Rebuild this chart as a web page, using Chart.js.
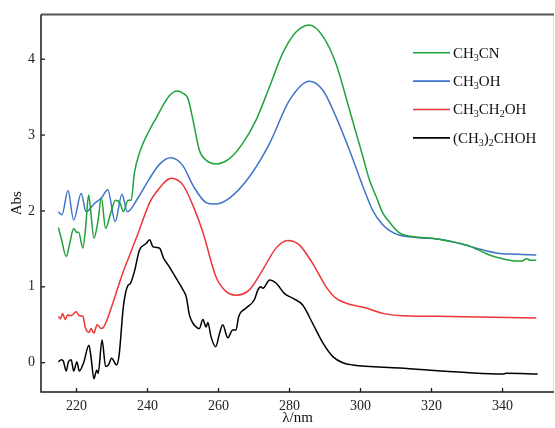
<!DOCTYPE html>
<html>
<head>
<meta charset="utf-8">
<title>UV-Vis spectra</title>
<script src="https://cdn.jsdelivr.net/npm/chart.js@4"></script>
<style>
  html, body { margin: 0; padding: 0; background: #fff; }
  #wrap { width: 555px; height: 428px; }
</style>
</head>
<body>
<div id="wrap"><canvas id="spectraChart" width="555" height="428"></canvas></div>
<script>
// Tick values
const xTicks = [220, 240, 260, 280, 300, 320, 340];
const yTicks = [0, 1, 2, 3, 4];

// CH3CN (green)
const ch3cnNm = [214.9, 215.7, 217.1, 218.0, 219.2, 220.0, 220.6, 221.8, 222.6, 223.4, 224.0, 224.9, 226.0, 227.0, 228.2, 229.5, 231.0, 232.3, 233.2, 234.5, 235.4, 236.3, 237.7, 240.6, 242.4, 244.5, 246.2, 248.3, 250.0, 251.4, 252.8, 254.6, 256.5, 259.3, 263.1, 266.8, 270.6, 274.4, 278.1, 281.9, 285.6, 289.4, 293.1, 296.9, 300.7, 302.5, 304.4, 306.3, 308.2, 311.0, 315.0, 320.4, 325.0, 329.8, 333.0, 336.3, 340.0, 343.8, 345.5, 346.7, 348.0, 349.5];
const ch3cnAbs = [1.78, 1.64, 1.40, 1.55, 1.77, 1.72, 1.72, 1.51, 1.80, 2.21, 2.00, 1.64, 1.85, 2.17, 1.77, 1.95, 2.14, 2.10, 1.99, 2.14, 2.14, 2.50, 2.76, 3.07, 3.22, 3.40, 3.52, 3.58, 3.55, 3.48, 3.20, 2.80, 2.67, 2.62, 2.69, 2.89, 3.20, 3.64, 4.08, 4.36, 4.45, 4.30, 3.94, 3.33, 2.71, 2.41, 2.19, 1.97, 1.85, 1.71, 1.66, 1.64, 1.60, 1.55, 1.49, 1.42, 1.37, 1.34, 1.34, 1.37, 1.35, 1.35];

// CH3OH (blue)
const ch3ohNm = [214.9, 215.9, 217.6, 219.2, 221.3, 222.7, 225.1, 227.0, 228.8, 230.9, 232.8, 234.3, 237.3, 240.6, 243.5, 246.5, 249.9, 253.0, 256.5, 258.9, 263.1, 268.7, 274.4, 280.0, 285.6, 289.4, 293.1, 296.9, 300.7, 303.5, 306.0, 308.2, 311.0, 315.7, 323.2, 328.0, 332.6, 339.2, 344.0, 349.5];
const ch3ohAbs = [1.99, 1.95, 2.27, 1.88, 2.23, 1.99, 2.10, 2.17, 2.28, 1.86, 2.22, 1.99, 2.17, 2.43, 2.62, 2.70, 2.60, 2.32, 2.11, 2.09, 2.17, 2.45, 2.89, 3.46, 3.71, 3.59, 3.24, 2.80, 2.32, 2.00, 1.83, 1.74, 1.68, 1.65, 1.62, 1.57, 1.51, 1.44, 1.43, 1.42];

// CH3CH2OH (red)
const etohNm = [214.9, 215.5, 216.1, 216.8, 217.5, 218.5, 219.9, 220.8, 221.8, 222.5, 223.5, 224.1, 224.9, 225.8, 227.0, 227.9, 230.2, 233.0, 234.5, 237.7, 240.6, 242.5, 246.7, 250.0, 253.0, 255.6, 259.3, 262.1, 264.9, 268.7, 272.4, 276.2, 279.5, 282.8, 286.5, 290.3, 293.1, 296.9, 301.6, 306.3, 311.9, 325.1, 349.5];
const etohAbs = [0.61, 0.58, 0.65, 0.57, 0.63, 0.62, 0.67, 0.62, 0.61, 0.46, 0.40, 0.45, 0.39, 0.50, 0.45, 0.49, 0.78, 1.18, 1.36, 1.75, 2.11, 2.25, 2.43, 2.34, 2.05, 1.72, 1.13, 0.94, 0.89, 0.96, 1.22, 1.51, 1.61, 1.55, 1.31, 1.00, 0.85, 0.77, 0.72, 0.65, 0.62, 0.61, 0.59];

// (CH3)2CHOH (black)
const iproNm = [214.9, 215.7, 216.3, 217.1, 217.7, 218.5, 219.2, 220.1, 220.8, 222.0, 223.5, 224.1, 224.9, 225.7, 226.1, 227.2, 228.2, 229.0, 229.9, 231.3, 232.0, 233.2, 234.5, 235.1, 236.3, 237.7, 239.6, 240.6, 241.5, 242.4, 243.4, 244.5, 246.2, 248.1, 250.0, 250.9, 251.8, 252.8, 254.0, 254.6, 255.6, 256.5, 257.0, 257.9, 259.2, 260.3, 261.2, 262.6, 264.0, 264.9, 265.7, 267.8, 270.1, 271.1, 271.9, 272.5, 274.4, 276.2, 278.6, 280.9, 283.7, 286.5, 289.4, 292.2, 295.0, 297.8, 311.0, 329.8, 340.1, 341.0, 349.9];
const iproAbs = [0.01, 0.04, 0.02, -0.11, 0.01, 0.04, -0.11, 0.01, -0.11, 0.00, 0.23, 0.07, -0.21, -0.10, -0.14, 0.30, -0.05, -0.03, 0.06, -0.03, 0.10, 0.74, 1.02, 1.04, 1.20, 1.48, 1.57, 1.62, 1.53, 1.52, 1.51, 1.38, 1.26, 1.11, 0.96, 0.87, 0.63, 0.52, 0.46, 0.45, 0.57, 0.47, 0.53, 0.34, 0.21, 0.39, 0.50, 0.33, 0.43, 0.43, 0.61, 0.72, 0.83, 0.96, 1.00, 0.98, 1.09, 1.05, 0.91, 0.85, 0.76, 0.52, 0.26, 0.08, 0.00, -0.03, -0.07, -0.13, -0.15, -0.14, -0.15];

// legend labels, "_" marks a subscript digit
const seriesLabels = ['CH_3CN', 'CH_3OH', 'CH_3CH_2OH', '(CH_3)_2CHOH'];
const seriesColors = ['#1fa23a', '#3f74c8', '#ee3434', '#000000'];

const SERIF = '"Liberation Serif", "DejaVu Serif", serif';

function toPoints(xs, ys) {
    return xs.map((x, i) => ({ x: x, y: ys[i] }));
}

// axis box, inward tick marks and the legend
const framePlugin = {
    id: 'frame',
    afterDraw(chart) {
        const ctx = chart.ctx;
        const area = chart.chartArea;
        const xs = chart.scales.x;
        const ys = chart.scales.y;
        ctx.save();

        // faint right edge
        ctx.strokeStyle = '#e4e4e4';
        ctx.lineWidth = 1;
        ctx.beginPath();
        ctx.moveTo(area.right - 0.5, area.top);
        ctx.lineTo(area.right - 0.5, area.bottom);
        ctx.stroke();

        // top edge
        ctx.strokeStyle = '#555';
        ctx.lineWidth = 2;
        ctx.beginPath();
        ctx.moveTo(area.left, area.top);
        ctx.lineTo(area.right, area.top);
        ctx.stroke();

        // left and bottom axes
        ctx.strokeStyle = '#1a1a1a';
        ctx.lineWidth = 1.5;
        ctx.beginPath();
        ctx.moveTo(area.left, area.top);
        ctx.lineTo(area.left, area.bottom);
        ctx.lineTo(area.right, area.bottom);
        ctx.stroke();

        // tick marks pointing inward
        ctx.lineWidth = 1.3;
        xTicks.forEach(v => {
            const px = xs.getPixelForValue(v);
            ctx.beginPath();
            ctx.moveTo(px, area.bottom);
            ctx.lineTo(px, area.bottom - 4);
            ctx.stroke();
        });
        yTicks.forEach(v => {
            const py = ys.getPixelForValue(v);
            ctx.beginPath();
            ctx.moveTo(area.left, py);
            ctx.lineTo(area.left + 4, py);
            ctx.stroke();
        });

        // legend
        const lx0 = 413, lx1 = 450, tx = 453;
        seriesLabels.forEach((label, i) => {
            const y = 52.7 + i * 28.4;
            ctx.strokeStyle = seriesColors[i];
            ctx.lineWidth = 1.6;
            ctx.beginPath();
            ctx.moveTo(lx0, y);
            ctx.lineTo(lx1, y);
            ctx.stroke();

            ctx.fillStyle = '#111';
            ctx.textAlign = 'left';
            ctx.textBaseline = 'alphabetic';
            let x = tx;
            const base = y + 4.8;
            for (let k = 0; k < label.length; k++) {
                const ch = label[k];
                if (ch === '_') {
                    k++;
                    ctx.font = '10px ' + SERIF;
                    ctx.fillText(label[k], x, base + 3);
                    x += ctx.measureText(label[k]).width;
                } else {
                    ctx.font = '15px ' + SERIF;
                    ctx.fillText(ch, x, base);
                    x += ctx.measureText(ch).width;
                }
            }
        });
        ctx.restore();
    }
};

const ctx = document.getElementById('spectraChart').getContext('2d');
const spectraChart = new Chart(ctx, {
    type: 'line',
    data: {
        datasets: [
            { label: 'CH3CN', data: toPoints(ch3cnNm, ch3cnAbs), borderColor: seriesColors[0] },
            { label: 'CH3OH', data: toPoints(ch3ohNm, ch3ohAbs), borderColor: seriesColors[1] },
            { label: 'CH3CH2OH', data: toPoints(etohNm, etohAbs), borderColor: seriesColors[2] },
            { label: '(CH3)2CHOH', data: toPoints(iproNm, iproAbs), borderColor: seriesColors[3] }
        ]
    },
    options: {
        responsive: false,
        animation: false,
        parsing: false,
        datasets: {
            line: {
                borderWidth: 1.5,
                pointRadius: 0,
                fill: false,
                cubicInterpolationMode: 'monotone'
            }
        },
        layout: {
            padding: { top: 14, right: 1, left: 0, bottom: 0 }
        },
        plugins: {
            legend: { display: false },
            tooltip: { enabled: false }
        },
        scales: {
            x: {
                type: 'linear',
                min: 210,
                max: 354.5,
                afterFit: s => { s.height = 36; },
                afterBuildTicks: s => { s.ticks = xTicks.map(v => ({ value: v })); },
                grid: { display: false, drawTicks: false },
                border: { display: false },
                ticks: {
                    padding: 6,
                    maxRotation: 0,
                    color: '#222',
                    font: { family: SERIF, size: 14 }
                },
                title: {
                    display: true,
                    text: 'λ/nm',
                    color: '#111',
                    padding: { top: 0, bottom: 1 },
                    font: { family: SERIF, size: 15 }
                }
            },
            y: {
                type: 'linear',
                min: -0.386,
                max: 4.59,
                afterFit: s => { s.width = 41; },
                afterBuildTicks: s => { s.ticks = yTicks.map(v => ({ value: v })); },
                grid: { display: false, drawTicks: false },
                border: { display: false },
                ticks: {
                    padding: 6,
                    color: '#222',
                    font: { family: SERIF, size: 14 }
                },
                title: {
                    display: true,
                    text: 'Abs',
                    color: '#111',
                    padding: { top: 8, bottom: 0 },
                    font: { family: SERIF, size: 15 }
                }
            }
        }
    },
    plugins: [framePlugin]
});
</script>
</body>
</html>
